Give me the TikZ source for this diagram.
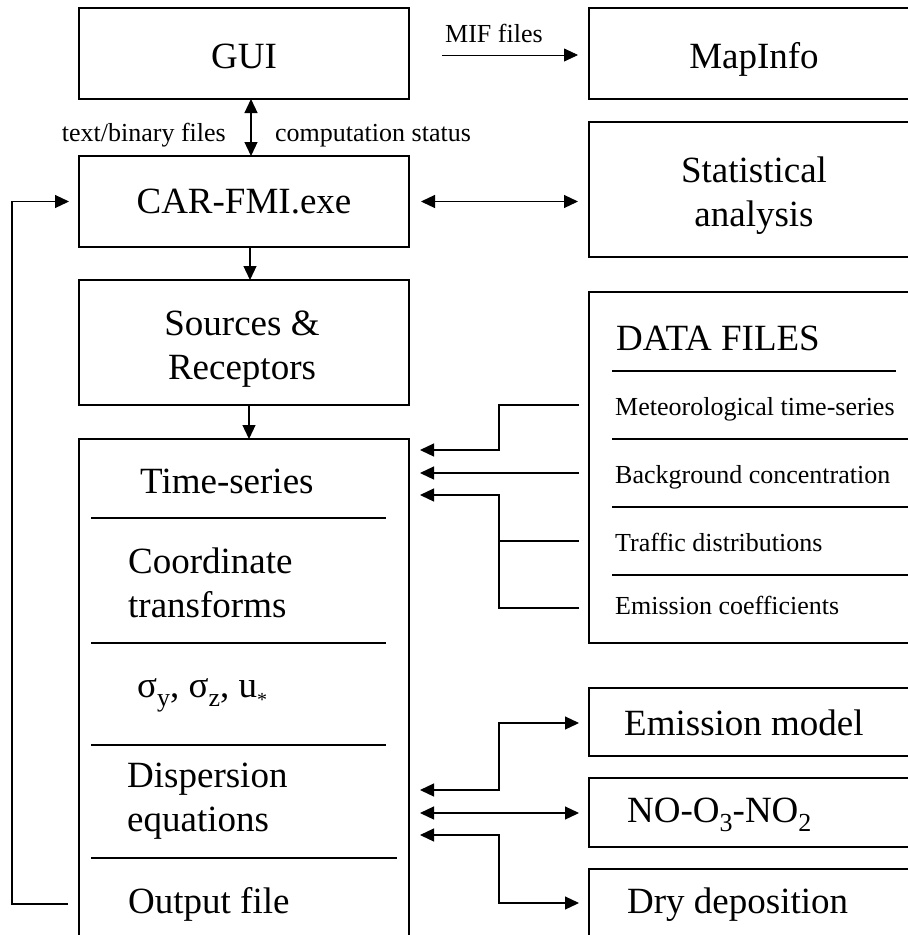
\documentclass[tikz,border=0pt]{standalone}
\usepackage{fontspec}
\setmainfont{Liberation Serif}
\usetikzlibrary{arrows.meta}
\newcommand{\stk}[2]{\begin{tabular}[t]{@{}#1@{}}#2\end{tabular}}
\newcommand{\sbs}[1]{\raisebox{-9pt}{\fontsize{26}{26}\selectfont #1}}
\newcommand{\sstar}{\raisebox{-9pt}{\fontsize{20}{20}\selectfont *}}
\begin{document}
\begin{tikzpicture}[x=1pt,y=-1pt,
  box/.style={draw, line width=1.2pt, inner sep=0pt, outer sep=0pt, anchor=north west},
  big/.style={font=\fontsize{37}{44}\selectfont, inner sep=0pt},
  small/.style={font=\fontsize{26}{30}\selectfont, inner sep=0pt},
  ln/.style={line width=1.2pt},
  tip/.style={arrows={-{Triangle[length=14pt,width=13pt]}}},
  arr/.style={line width=1.2pt, -{Triangle[length=14pt,width=13pt]}},
  dbl/.style={line width=1.2pt, {Triangle[length=14pt,width=13pt]}-{Triangle[length=14pt,width=13pt]}},
]
\useasboundingbox (0,0) rectangle (908,935);
\clip (0,0) rectangle (908,935);
\fill[white] (0,0) rectangle (908,935);

% boxes
\node[box, minimum width=330pt, minimum height=91pt] (gui) at (79,8) {};
\node[box, minimum width=340pt, minimum height=91pt] (map) at (589,8) {};
\node[box, minimum width=330pt, minimum height=91pt] (car) at (79,156) {};
\node[box, minimum width=340pt, minimum height=135pt] (stat) at (589,122) {};
\node[box, minimum width=330pt, minimum height=125pt] (src) at (79,280) {};
\node[box, minimum width=340pt, minimum height=351pt] (df) at (589,292) {};
\node[box, minimum width=330pt, minimum height=520pt] (ts) at (79,439) {};
\node[box, minimum width=340pt, minimum height=68pt] (em) at (589,688) {};
\node[box, minimum width=340pt, minimum height=69pt] (no) at (589,778) {};
\node[box, minimum width=340pt, minimum height=100pt] (dry) at (589,869) {};

% texts
\node[big, anchor=base] (tgui) at (244,68) {GUI};
\node[big, anchor=base] (tmap) at (754,68) {MapInfo};
\node[big, anchor=base] (tcar) at (244,213) {CAR-FMI.exe};
\node[big, anchor=base] (tstat) at (754,182) {\stk{c}{Statistical\\analysis}};
\node[big, anchor=base] (tsrc) at (242,335) {\stk{c}{Sources \&\\Receptors}};
\node[big, anchor=base west] (tdf) at (616,350) {DATA FILES};
\node[small, anchor=base west] (met) at (615,415) {Meteorological time-series};
\node[small, anchor=base west] (bg) at (615,483) {Background concentration};
\node[small, anchor=base west] (traf) at (615,551) {Traffic distributions};
\node[small, anchor=base west] (emc) at (615,614) {Emission coefficients};
\node[big, anchor=base west] (tts) at (140,493) {Time-series};
\node[big, anchor=base west] (tco) at (128,573) {\stk{l}{Coordinate\\transforms}};
\node[big, anchor=base west] (tsig) at (137,697) {σ\sbs{y}, σ\sbs{z}, u\sstar};
\node[big, anchor=base west] (tdis) at (127,787) {\stk{l}{Dispersion\\equations}};
\node[big, anchor=base west] (tout) at (128,913) {Output file};
\node[big, anchor=base west] (tem) at (624,735) {Emission model};
\node[big, anchor=base west] (tno) at (627,822) {NO-O\sbs{3}-NO\sbs{2}};
\node[big, anchor=base west] (tdry) at (627,913) {Dry deposition};
\node[small, anchor=base west] (tmif) at (445,42) {MIF files};
\node[small, anchor=base east] (ttb) at (226,141) {text/binary files};
\node[small, anchor=base west] (tcs) at (275,141) {computation status};

% separator lines
\draw[ln] (91,518) -- (386,518);
\draw[ln] (91,643) -- (386,643);
\draw[ln] (91,745) -- (386,745);
\draw[ln] (91,858) -- (397,858);
\draw[ln] (612,371) -- (896,371);
\draw[ln] (612,439) -- (910,439);
\draw[ln] (612,507) -- (910,507);
\draw[ln] (612,575) -- (910,575);

% connectors
\coordinate (mifs) at (442,55);
\draw[line width=0.8pt, tip, shorten >=11pt] (mifs) -- (mifs -| map.west);
\draw[dbl] ([xshift=7pt]gui.south) -- ([xshift=7pt]car.north);
\draw[arr] ([xshift=6pt]car.south) -- ([xshift=6pt]src.north);
\draw[arr] ([xshift=5pt]src.south) -- ([xshift=5pt]ts.north);
\draw[dbl, shorten <=12pt, shorten >=11pt] (car.east) -- (car.east -| stat.west);
\coordinate (fbs) at (68,904);
\draw[arr, shorten >=10pt] (fbs) -- (12,904) |- (car.west);

\coordinate (i1) at (420,450);
\coordinate (i2) at (420,473);
\coordinate (i3) at (420,495);
\coordinate (o1) at (579,405);
\coordinate (o2) at (579,473);
\coordinate (o3) at (579,541);
\coordinate (o4) at (579,608);
\draw[arr] (o1) -- (499,405) |- (i1);
\draw[arr] (o2) -- (i2);
\draw[arr] (o4) -- (499,608) |- (i3);
\draw[ln] (o3) -- (499,541);

\coordinate (j1) at (420,790);
\coordinate (j2) at (420,813);
\coordinate (j3) at (420,835);
\coordinate (p1) at (579,723);
\coordinate (p2) at (579,813);
\coordinate (p3) at (579,903);
\draw[dbl] (j1) -- (499,790) |- (p1);
\draw[dbl] (j2) -- (p2);
\draw[dbl] (j3) -- (499,835) |- (p3);
\end{tikzpicture}
\end{document}
